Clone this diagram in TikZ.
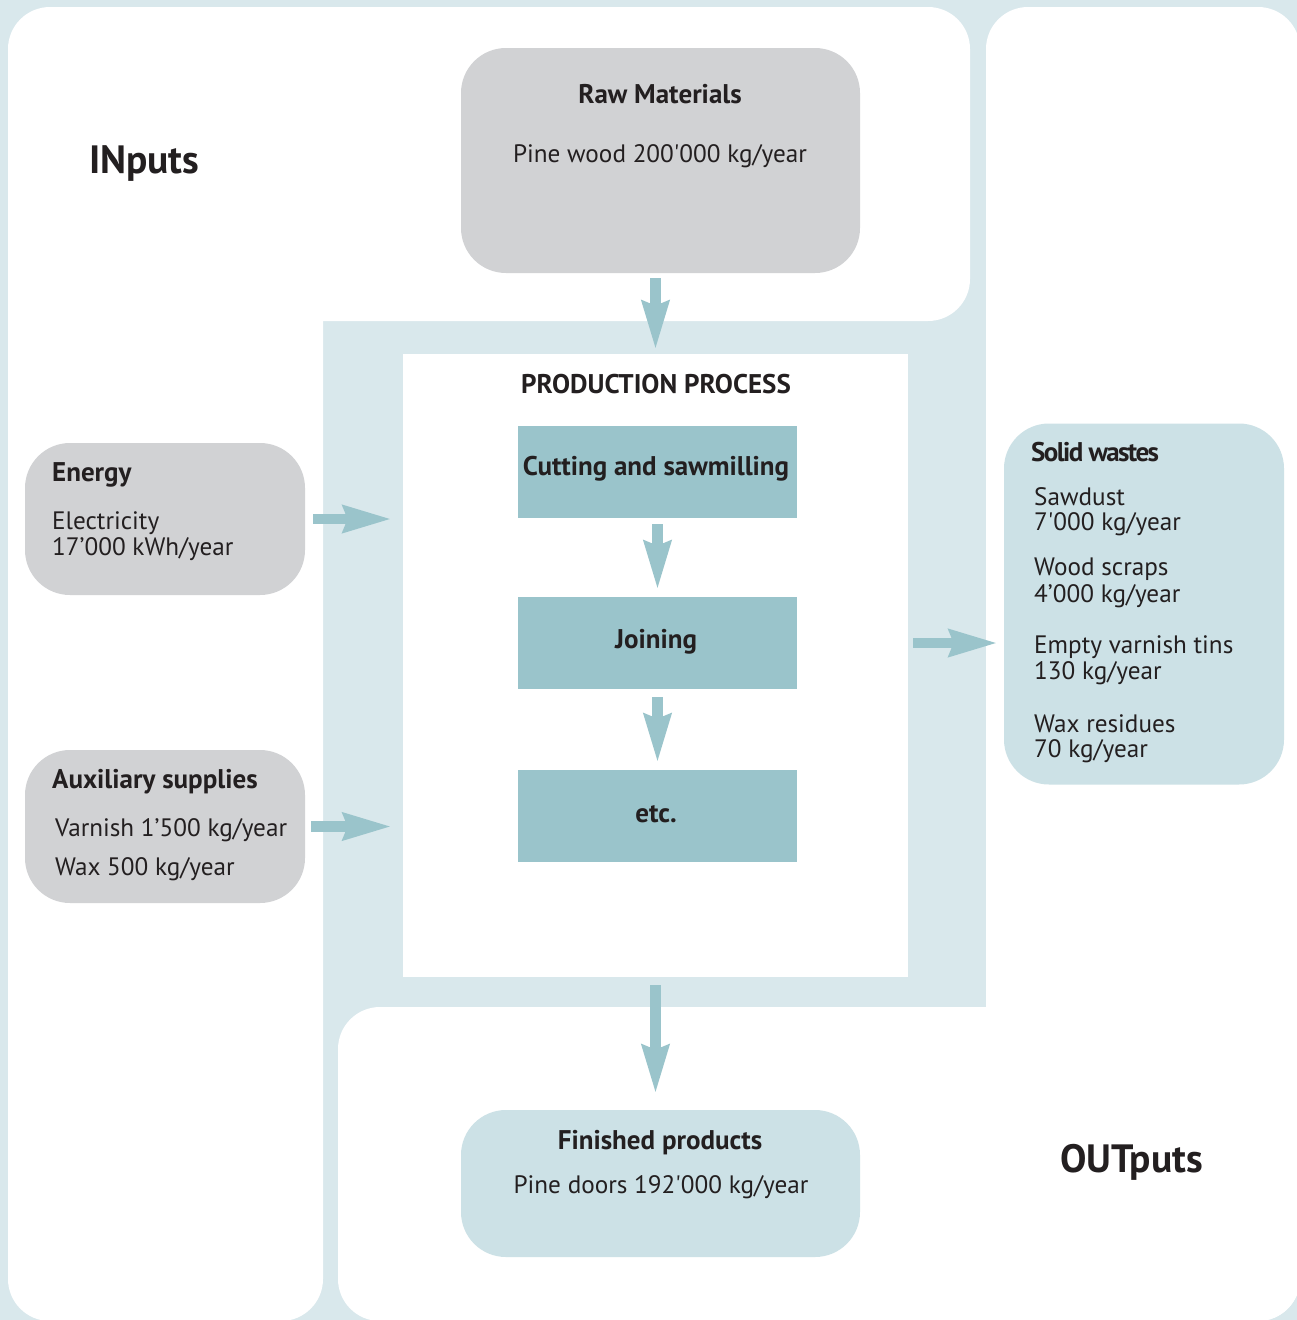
\documentclass[tikz,border=0pt]{standalone}
\usepackage{fontspec}
\setmainfont{PT Sans}
\usetikzlibrary{arrows.meta,positioning}

\definecolor{paleblue}{HTML}{D9E8EC}
\definecolor{boxgray}{HTML}{D1D2D4}
\definecolor{outblue}{HTML}{CCE1E6}
\definecolor{stepblue}{HTML}{9AC4CB}
\definecolor{ink}{HTML}{231F20}

\tikzset{
  region/.style={fill=white, rounded corners=42pt},
  inbox/.style={fill=boxgray, rounded corners=45pt, inner sep=0pt},
  outbox/.style={fill=outblue, rounded corners=45pt, inner sep=0pt},
  work/.style={fill=white, inner sep=0pt},
  stepbox/.style={fill=stepblue, inner sep=0pt, minimum width=279pt, minimum height=92pt},
  flow/.style={draw=stepblue, line width=10.5pt, -{Stealth[inset=4pt,width=26pt,length=48pt]}},
  txt/.style={text=ink, inner sep=0pt, anchor=base west, font=\fontsize{25.2}{26}\selectfont},
  head/.style={txt, font=\bfseries\fontsize{27}{28}\selectfont},
  big/.style={txt, font=\bfseries\fontsize{39.5}{40}\selectfont}
}

\begin{document}
\begin{tikzpicture}[x=1pt,y=-1pt]
  \useasboundingbox (0,0) rectangle (1297,1320);
  \fill[paleblue] (0,0) rectangle (1297,1320);

  % inputs and outputs areas
  \fill[region] (8,7) rectangle (970,321);
  \fill[region] (8,100) rectangle (323,1321);
  \fill[region] (986,7) rectangle (1300,1321);
  \fill[region] (338,1007) rectangle (1300,1321);

  \node[big] (intitle) at (89,173) {INputs};
  \node[big] (outtitle) at (1060,1172) {OUTputs};

  % boxes
  \node[inbox, minimum width=399pt, minimum height=225pt] (raw) at (660.5,160.5) {};
  \node[inbox, minimum width=280pt, minimum height=152pt] (energy) at (165,519) {};
  \node[inbox, minimum width=280pt, minimum height=153pt] (aux) at (165,826.5) {};
  \node[work, minimum width=505pt, minimum height=623pt] (prod) at (655.5,665.5) {};
  \node[stepbox] (cut) at (657.5,472) {};
  \node[stepbox] (join) at (657.5,643) {};
  \node[stepbox] (etc) at (657.5,816) {};
  \node[outbox, minimum width=280pt, minimum height=361pt] (waste) at (1144,604) {};
  \node[outbox, minimum width=399pt, minimum height=147pt] (done) at (660.5,1183.5) {};

  % texts
  \node[head, anchor=base] (rawhead) at (660,103) {Raw Materials};
  \node[txt, anchor=base] (rawtext) at (660,162) {Pine wood 200\textquotesingle000 kg/year};
  \node[head, anchor=base] (prodhead) at (656,393) {PRODUCTION PROCESS};
  \node[head, anchor=base] (cuttext) at (656,475) {Cutting and sawmilling};
  \node[head, anchor=base] (jointext) at (656,648) {Joining};
  \node[head, anchor=base] (etctext) at (656,822) {etc.};
  \node[head] (energyhead) at (52,481) {Energy};
  \node[txt] (energytext1) at (52,529) {Electricity};
  \node[txt] (energytext2) at (52,555) {17’000 kWh/year};
  \node[head] (auxhead) at (52,788) {Auxiliary supplies};
  \node[txt] (auxtext1) at (55,836) {Varnish 1’500 kg/year};
  \node[txt] (auxtext2) at (55,875) {Wax 500 kg/year};
  \node[head, font=\bfseries\fontsize{27}{28}\selectfont\addfontfeature{LetterSpace=-6}] (wastehead) at (1031,461) {Solid wastes};
  \node[txt] (waste1a) at (1034,505) {Sawdust};
  \node[txt] (waste1b) at (1034,530) {7\textquotesingle000 kg/year};
  \node[txt] (waste2a) at (1034,575) {Wood scraps};
  \node[txt] (waste2b) at (1034,602) {4’000 kg/year};
  \node[txt] (waste3a) at (1034,653) {Empty varnish tins};
  \node[txt] (waste3b) at (1034,679) {130 kg/year};
  \node[txt] (waste4a) at (1034,732) {Wax residues};
  \node[txt] (waste4b) at (1034,757) {70 kg/year};
  \node[head, anchor=base] (donehead) at (660,1149) {Finished products};
  \node[txt, anchor=base] (donetext) at (661,1193) {Pine doors 192\textquotesingle000 kg/year};

  % flows
  \draw[flow, shorten <=5pt, shorten >=4pt] (prod.north |- raw.south) -- (prod.north);
  \draw[flow, shorten <=8pt, shorten >=11pt] (energy.east) -- (energy.east -| prod.west);
  \draw[flow, shorten <=6pt, shorten >=11pt] (aux.east) -- (aux.east -| prod.west);
  \draw[flow, shorten <=6pt, shorten >=7pt] (cut) -- (join);
  \draw[flow, shorten <=8pt, shorten >=7pt] (join) -- (etc);
  \draw[flow, shorten <=5pt, shorten >=6pt] (prod.east |- join) -- (waste.west |- join);
  \draw[flow, shorten <=8pt, shorten >=16pt] (prod.south) -- (prod.south |- done.north);
\end{tikzpicture}
\end{document}
